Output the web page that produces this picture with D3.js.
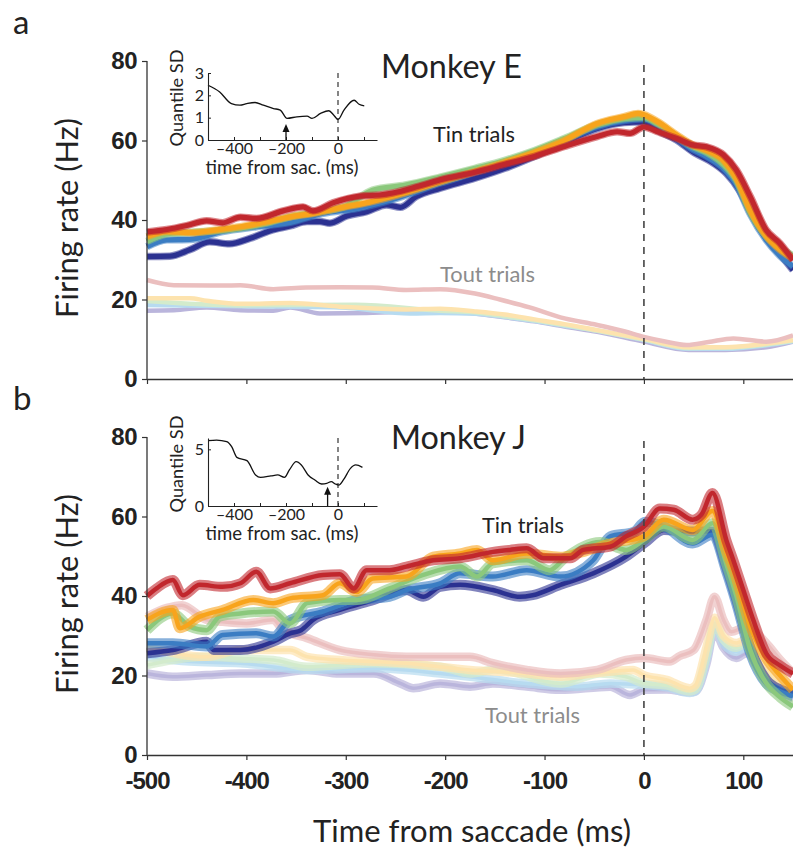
<!DOCTYPE html>
<html><head><meta charset="utf-8">
<script src="https://cdn.jsdelivr.net/npm/d3@7"></script>
<style>
body{margin:0;background:#fff;}
svg{display:block;}
.tick-bold{font-family:"Liberation Sans",Arial,Helvetica,sans-serif;font-weight:bold;}
.lbl{font-family:Lato,"Open Sans","Noto Sans",sans-serif;}
</style></head>
<body>
<script>
// ---------------- DATA ----------------
const xTicks = [-500,-400,-300,-200,-100,0,100];
const yTicks = [0,20,40,60,80];
const tinColors  = ["#2b3191","#3b7dc3","#8bc87c","#f8a41c","#c1272d"];
const toutColors = ["#bab5dc","#b7dbf0","#d3ebcc","#fde3ae","#ebbfbf"];

// Monkey E, Tin trials (time ms, rate Hz)
const aTinQ1 = [[-500,30.8],[-477,30.9],[-457,32.5],[-437,34.5],[-417,34.0],[-396,35.4],[-376,37.3],[-356,38.5],[-339,39.6],[-326,39.6],[-316,39.2],[-299,41.0],[-279,42.1],[-259,43.8],[-245,43.2],[-229,45.9],[-205,48.0],[-170,50.5],[-140,53],[-110,56],[-80,59.5],[-47,63],[-20,64.5],[0,64.7],[14,62.5],[33,60.1],[49,57.2],[70,54.3],[83,51.7],[96,47.5],[110,40.8],[123,35.8],[137,31.5],[150,27.4]];
const aTinQ2 = [[-500,33.3],[-480,35],[-457,35.1],[-424,37.1],[-390,38.3],[-356,39.4],[-323,41.7],[-289,42.9],[-255,45],[-205,49.3],[-170,52],[-140,54.5],[-110,57],[-80,60],[-47,63.5],[-20,65],[0,65.5],[14,64],[33,60.5],[49,57.8],[63,56],[80,53],[93,49],[107,41.5],[123,35],[137,31],[150,28.3]];
const aTinQ3 = [[-500,34.6],[-480,36.5],[-455,36.9],[-430,37.3],[-406,38],[-380,39.2],[-356,40.8],[-330,42],[-300,43.5],[-273,47.5],[-240,48.8],[-205,50.8],[-170,53],[-140,55],[-110,57.5],[-80,60.5],[-47,64],[-20,65.5],[0,65.8],[14,64.2],[33,61],[49,58.5],[63,57],[80,54],[93,50],[107,42],[123,36],[137,33],[150,31]];
const aTinQ4 = [[-500,35.8],[-480,37.1],[-455,36.8],[-430,37.5],[-406,38.3],[-380,39.5],[-356,40.8],[-330,41.8],[-309,42.9],[-276,44.5],[-242,46.7],[-205,49.6],[-170,52.2],[-140,54.5],[-110,57],[-80,60],[-47,64.3],[-20,66],[-6,66.8],[0,66.5],[14,64.7],[33,61.4],[49,58.9],[63,57.5],[80,55],[93,50.5],[107,42.5],[123,36],[137,32.5],[150,30.3]];
const aTinQ5 = [[-500,37.0],[-480,37.6],[-460,38.6],[-440,39.8],[-424,39.3],[-406,40.7],[-390,40.4],[-363,42.3],[-343,43.3],[-333,42.3],[-313,44.3],[-286,46.0],[-266,46.3],[-253,46.8],[-228,48.4],[-205,50.1],[-170,52],[-140,54],[-110,56],[-80,58.5],[-47,61],[-27,62.2],[-14,61.8],[0,63.4],[14,62.2],[33,60.5],[49,58.9],[63,58.4],[80,56.4],[93,52.6],[107,45.9],[123,37.5],[137,34.1],[150,29.9]];
// Monkey E, Tout trials
const aToutQ1 = [[-500,17.2],[-473,17.3],[-440,18],[-406,17.3],[-373,17.2],[-356,18],[-326,16.5],[-279,16.6],[-205,17.2],[-170,16.5],[-140,15.5],[-110,14.5],[-80,13.2],[-47,11.9],[0,9.4],[45,7.3],[82,7.3],[123,8],[150,9.4]];
const aToutQ2 = [[-500,18.6],[-406,18.3],[-306,18],[-235,16.5],[-205,16.6],[-170,16.4],[-140,15.6],[-110,14.6],[-80,13.4],[-47,12.2],[0,9.8],[45,7.6],[82,7.6],[123,8.5],[150,9.5]];
const aToutQ3 = [[-500,19.6],[-406,18.5],[-290,18.7],[-205,17.2],[-170,16.8],[-140,15.8],[-110,14.8],[-80,13.6],[-47,12.1],[0,9.9],[45,7.8],[82,7.9],[123,8.7],[150,9.6]];
const aToutQ4 = [[-500,20.3],[-457,20.3],[-440,19.7],[-406,18.9],[-356,19.1],[-306,18.2],[-239,17.5],[-205,17.7],[-170,17],[-140,16.2],[-110,15],[-80,13.8],[-47,12.3],[0,10.1],[45,8],[82,8],[123,8.9],[150,9.8]];
const aToutQ5 = [[-500,24.9],[-473,23.6],[-424,23.5],[-406,23.6],[-373,22.6],[-340,23],[-306,23.1],[-273,23],[-239,22.4],[-205,22.6],[-170,21.5],[-145,20],[-115,18],[-84,15.5],[-47,13.6],[-20,12],[0,10.6],[20,9.5],[43,8.55],[65,9.3],[90,10.2],[123,9.4],[150,11]];

// Monkey J, Tin trials
const bTinQ1 = [[-500,25.6],[-474,26.4],[-440,28.5],[-433,26.4],[-406,26.4],[-373,28.5],[-356,30.6],[-345,31.4],[-333,34],[-306,36.5],[-272,39],[-239,41.5],[-222,39.8],[-205,42.3],[-185,42.8],[-152,41.5],[-125,39.8],[-112,40.2],[-84,42.8],[-51,45.7],[-18,49.9],[0,53.2],[20,56.6],[49,56.2],[69,56.2],[83,47],[93,39],[107,27],[123,19],[137,16.5],[150,15.6]];
const bTinQ2 = [[-500,28.1],[-474,28.1],[-440,27.3],[-424,30.2],[-390,30.6],[-373,29.8],[-356,34],[-323,36.1],[-289,39],[-256,39.8],[-239,41.5],[-205,43.2],[-185,45.7],[-152,44.9],[-118,46.5],[-84,44.9],[-51,49],[-34,55],[-10,56.2],[1,58.7],[20,57.5],[49,53.2],[69,55.4],[83,46],[93,38],[107,25.5],[123,18],[137,16],[150,14.8]];
const bTinQ3 = [[-500,31.4],[-474,35.6],[-457,32.3],[-440,31.4],[-427,34.8],[-406,35.6],[-373,36.1],[-356,33.1],[-339,38.2],[-306,39],[-289,39],[-256,41.9],[-222,45.3],[-185,47.4],[-168,44.9],[-152,48.2],[-118,49],[-95,46.5],[-78,49.9],[-44,53.6],[-18,51.6],[0,54.1],[20,57.5],[49,54.1],[69,58.3],[83,48],[93,40],[107,26.4],[123,18.1],[137,14.5],[150,12.2]];
const bTinQ4 = [[-500,34],[-474,36.5],[-467,31.9],[-447,34.8],[-424,36.5],[-393,39],[-373,38.2],[-356,39.4],[-323,40.2],[-306,43.2],[-289,41],[-273,44.4],[-239,44.9],[-212,49.9],[-185,50.7],[-168,51.6],[-152,49],[-118,50.7],[-84,49.9],[-67,50.7],[-34,53.2],[0,55],[20,59.2],[49,56.6],[69,61.4],[83,51],[90,46.5],[107,32.3],[123,24.3],[137,20],[150,16.4]];
const bTinQ5 = [[-500,40],[-490,42],[-474,44],[-464,40.2],[-447,42.8],[-424,42.3],[-406,43.2],[-390,46.1],[-376,41.9],[-356,43.2],[-323,45.3],[-306,45.5],[-292,41.9],[-279,46.5],[-256,46.5],[-239,47.4],[-212,49],[-185,49.5],[-152,51.1],[-135,51.6],[-118,52],[-101,49.5],[-74,49.5],[-61,51.6],[-34,52.4],[-18,55],[0,57.4],[16,62],[30,61.7],[49,59.2],[58,60.5],[69,65.9],[83,54],[90,49],[100,41.5],[110,34],[123,25.6],[137,22.5],[150,20.5]];
// Monkey J, Tout trials
const bToutQ1 = [[-500,20.5],[-474,19.7],[-440,20.1],[-406,20.5],[-373,20.5],[-339,21.4],[-306,20.5],[-272,20.5],[-245,18],[-232,16.8],[-205,18],[-175,17.2],[-152,18],[-118,17.2],[-84,16.4],[-34,17.2],[-14,15.1],[0,16.4],[23,16.5],[46,15.8],[52,16],[63,23],[71,31.4],[80,27],[93,24.4],[103,25.6],[123,19],[150,14]];
const bToutQ2 = [[-500,24.7],[-457,23.5],[-406,23.1],[-339,21.4],[-272,21.8],[-205,20.5],[-175,19.7],[-118,18],[-67,17.2],[-34,18],[0,17.6],[23,17],[46,15.6],[52,16],[63,24],[71,32.5],[80,28],[93,26],[103,27],[123,20],[150,14.5]];
const bToutQ3 = [[-500,22.6],[-474,23.9],[-440,24.7],[-406,24.3],[-373,23.9],[-339,22.2],[-272,23.1],[-205,22.2],[-175,20.5],[-150,21.5],[-84,18],[-44,20.5],[-18,19.7],[0,18],[23,17.5],[46,16],[52,16.5],[63,25],[71,33],[80,29],[93,27],[103,28],[123,21],[150,14.5]];
const bToutQ4 = [[-500,27.2],[-440,24.7],[-406,26.4],[-356,26.4],[-339,24.7],[-306,23.9],[-239,23.1],[-175,21.4],[-118,20.5],[-84,19.7],[-51,20.5],[-11,21.4],[0,20.1],[23,18.9],[46,16.8],[52,17.6],[63,27.2],[71,34.5],[80,30],[93,28.2],[103,29],[123,22],[137,18],[150,16]];
const bToutQ5 = [[-500,34.8],[-480,37],[-465,37.7],[-440,34],[-424,33.5],[-400,33.1],[-373,34],[-363,31.4],[-339,29.4],[-306,26.4],[-272,25.2],[-239,24.7],[-175,24.7],[-152,23.1],[-118,21.4],[-84,20.5],[-47,21.4],[-18,23.9],[0,24.4],[26,23.5],[36,24.9],[50,26.4],[63,34],[71,39.8],[80,34],[88,31],[103,32.3],[123,28.2],[137,24],[150,20.6]];

// Insets: quantile SD
const insetLabelTicks = [-400,-200,0];
const insetYTicksA = [0,1,2,3];
const insetYTicksB = [0,5];
const insetA = [[-500,2.45],[-455,2.15],[-410,1.63],[-377,1.56],[-351,1.63],[-319,1.68],[-287,1.56],[-248,1.41],[-222,1.34],[-196,0.97],[-158,1.04],[-119,1.07],[-100,0.97],[-67,1.19],[-35,1.31],[-16,1.11],[0,0.92],[23,1.34],[62,1.78],[81,1.6],[101,1.53]];
const insetB = [[-500,5.76],[-467,5.82],[-428,5.68],[-409,5.24],[-389,4.29],[-350,4.0],[-317,2.74],[-298,2.53],[-258,2.65],[-232,2.74],[-206,2.53],[-187,3.18],[-161,3.91],[-141,3.62],[-115,2.74],[-89,2.29],[-63,1.94],[-43,2.0],[-26,2.15],[-10,1.94],[3,1.85],[22,2.35],[48,3.32],[68,3.62],[94,3.41]];
const arrowA = {t:-200, v:0.72};
const arrowB = {t:-40, v:1.7};

// ---------------- DRAW ----------------
const W = 793, H = 860;
const svg = d3.select("body").append("svg").attr("width", W).attr("height", H);

function fit(sel, target){
  const base = parseFloat(sel.style("font-size"));
  const w = sel.node().getComputedTextLength();
  const fs = base*target/w;
  sel.style("font-size", fs+"px");
  return fs;
}
const dashFmt = d => d<0 ? "-"+Math.abs(d) : String(d);

const x = d3.scaleLinear().domain([-500,150]).range([147,793]);
const ix = d3.scaleLinear().domain([-500,150]).range([208,377]);
const panels = [
  {y: d3.scaleLinear().domain([0,80]).range([379,61]), tin:[aTinQ1,aTinQ2,aTinQ3,aTinQ4,aTinQ5], tout:[aToutQ1,aToutQ2,aToutQ3,aToutQ4,aToutQ5],
   band:false, letter:"a", letterY:34, title:"Monkey E", titleX:381, titleY:78,
   tinX:433, tinY:142, toutX:440, toutY:282, xLabels:false,
   inset:{data:insetA, y:d3.scaleLinear().domain([0,3]).range([140,73]), yt:insetYTicksA, arrow:arrowA}},
  {y: d3.scaleLinear().domain([0,80]).range([755,437]), tin:[bTinQ1,bTinQ2,bTinQ3,bTinQ4,bTinQ5], tout:[bToutQ1,bToutQ2,bToutQ3,bToutQ4,bToutQ5],
   band:true, letter:"b", letterY:410, title:"Monkey J", titleX:391, titleY:449,
   tinX:482, tinY:533, toutX:485, toutY:723, xLabels:true,
   inset:{data:insetB, y:d3.scaleLinear().domain([0,6]).range([506,438]), yt:insetYTicksB, arrow:arrowB}}
];

let fsTitle=null, fsTin=null, fsTout=null, fsY=null, fsInsetX=null, fsInsetY=null;

panels.forEach((p,pi) => {
  const y = p.y;
  const g = svg.append("g");
  const line = d3.line().x(d=>x(d[0])).y(d=>y(d[1])).curve(d3.curveMonotoneX);

  p.tout.forEach((s,i)=>{
    if (p.band){
      g.append("path").attr("d", line(s)).attr("fill","none").attr("stroke",toutColors[i])
        .attr("stroke-width",8.5).attr("stroke-opacity",0.7).attr("stroke-linejoin","round");
      g.append("path").attr("d", line(s)).attr("fill","none").attr("stroke",toutColors[i])
        .attr("stroke-width",3.5).attr("stroke-linejoin","round");
    } else {
      g.append("path").attr("d", line(s)).attr("fill","none").attr("stroke",toutColors[i])
        .attr("stroke-width",4.5).attr("stroke-linejoin","round");
    }
  });
  p.tin.forEach((s,i)=>{
    if (p.band){
      g.append("path").attr("d", line(s)).attr("fill","none").attr("stroke",tinColors[i])
        .attr("stroke-width",10).attr("stroke-opacity",0.6).attr("stroke-linejoin","round");
      g.append("path").attr("d", line(s)).attr("fill","none").attr("stroke",tinColors[i])
        .attr("stroke-width",4.5).attr("stroke-linejoin","round");
    } else {
      g.append("path").attr("d", line(s)).attr("fill","none").attr("stroke",tinColors[i])
        .attr("stroke-width",7.5).attr("stroke-opacity",0.55).attr("stroke-linejoin","round");
      g.append("path").attr("d", line(s)).attr("fill","none").attr("stroke",tinColors[i])
        .attr("stroke-width",5.2).attr("stroke-linejoin","round");
    }
  });

  g.append("line").attr("x1",x(0)).attr("x2",x(0)).attr("y1",y(80)+4).attr("y2",y(0))
    .attr("stroke","#444").attr("stroke-width",1.6).attr("stroke-dasharray","7,6");

  const ya = g.append("g").attr("transform",`translate(${x(-500)},0)`)
    .call(d3.axisLeft(y).tickValues(yTicks).tickSize(5).tickSizeOuter(0).tickPadding(5));
  ya.selectAll("text").attr("class","tick-bold").style("font-size","24px").attr("fill","#222").attr("letter-spacing","-0.5");
  const xa = g.append("g").attr("transform",`translate(0,${y(0)})`)
    .call(d3.axisBottom(x).tickValues(xTicks).tickSize(5).tickSizeOuter(0).tickPadding(12)
      .tickFormat(p.xLabels ? dashFmt : ""));
  xa.selectAll("text").attr("class","tick-bold").style("font-size","24px").attr("fill","#222").attr("letter-spacing","-1");
  [ya,xa].forEach(a=>{ a.select(".domain").attr("stroke","#333").attr("stroke-width",1.3);
    a.selectAll(".tick line").attr("stroke","#333").attr("stroke-width",1.2); });
  ya.select(".domain").attr("d",`M0,${y(80)}V${y(0)}`);

  // texts
  svg.append("text").attr("class","lbl").attr("x",13).attr("y",p.letterY).text(p.letter)
    .style("font-size","33px").attr("fill","#222");
  const tt = svg.append("text").attr("class","lbl").attr("x",p.titleX).attr("y",p.titleY).text(p.title)
    .style("font-size","30px").attr("fill","#222");
  if (pi===0) fsTitle = fit(tt,141); else tt.style("font-size",fsTitle+"px");
  const ti = svg.append("text").attr("class","lbl").attr("x",p.tinX).attr("y",p.tinY).text("Tin trials")
    .style("font-size","20px").attr("fill","#222");
  if (pi===0) fsTin = fit(ti,82); else ti.style("font-size",fsTin+"px");
  const to = svg.append("text").attr("class","lbl").attr("x",p.toutX).attr("y",p.toutY).text("Tout trials")
    .style("font-size","20px").attr("fill","#8c8c8c");
  if (pi===0) fsTout = fit(to,95); else to.style("font-size",fsTout+"px");
  const yt = svg.append("text").attr("class","lbl")
    .attr("transform",`translate(78,${(y(0)+y(80))/2 - 2}) rotate(-90)`).attr("text-anchor","middle")
    .text("Firing rate (Hz)").style("font-size","29px").attr("fill","#222");
  if (pi===0) fsY = fit(yt,200); else yt.style("font-size",fsY+"px");

  // inset
  const iy = p.inset.y;
  const ig = svg.append("g");
  const iline = d3.line().x(d=>ix(d[0])).y(d=>iy(d[1])).curve(d3.curveMonotoneX);
  ig.append("path").attr("d", iline(p.inset.data)).attr("fill","none").attr("stroke","#111").attr("stroke-width",1.3);
  ig.append("line").attr("x1",ix(0)).attr("x2",ix(0)).attr("y1",iy.range()[1]).attr("y2",iy(0))
    .attr("stroke","#222").attr("stroke-width",1.1).attr("stroke-dasharray","5,4");
  const iya = ig.append("g").attr("transform",`translate(${ix(-500)},0)`)
    .call(d3.axisLeft(iy).tickValues(p.inset.yt).tickSize(-3).tickSizeOuter(0).tickPadding(4).tickFormat(d3.format("d")));
  const ixa = ig.append("g").attr("transform",`translate(0,${iy(0)})`)
    .call(d3.axisBottom(ix).tickValues([-400,-300,-200,-100,0,100]).tickSize(-3).tickSizeOuter(0).tickPadding(2)
      .tickFormat(d => insetLabelTicks.includes(d) ? (d<0 ? "–"+Math.abs(d) : String(d)) : ""));
  [iya,ixa].forEach(a=>{ a.select(".domain").attr("stroke","#222").attr("stroke-width",1.1);
    a.selectAll(".tick line").attr("stroke","#222");
    a.selectAll("text").attr("class","lbl").style("font-size","16px").attr("fill","#222"); });
  ixa.selectAll("text").attr("dy","0.72em");
  const itx = ig.append("text").attr("class","lbl").attr("x",282).attr("y",iy(0)+34).attr("text-anchor","middle")
    .text("time from sac. (ms)").style("font-size","16px").attr("fill","#222");
  if (pi===0) fsInsetX = fit(itx,153); else itx.style("font-size",fsInsetX+"px");
  const ity = ig.append("text").attr("class","lbl")
    .attr("transform",`translate(183,${iy(0)-42}) rotate(-90)`).attr("text-anchor","middle")
    .text("Quantile SD").style("font-size","16px").attr("fill","#222");
  if (pi===0) fsInsetY = fit(ity,97); else ity.style("font-size",fsInsetY+"px");
  const ar = p.inset.arrow;
  const ax0 = ix(ar.t), ayTip = iy(ar.v);
  ig.append("line").attr("x1",ax0).attr("x2",ax0).attr("y1",iy(0)).attr("y2",ayTip+5)
    .attr("stroke","#111").attr("stroke-width",1.3);
  ig.append("path").attr("d",`M${ax0},${ayTip} L${ax0-3.5},${ayTip+8} L${ax0+3.5},${ayTip+8} Z`).attr("fill","#111");
});

const xt = svg.append("text").attr("class","lbl").attr("x",472).attr("y",842).attr("text-anchor","middle")
  .text("Time from saccade (ms)").style("font-size","28px").attr("fill","#222");
fit(xt,318);
</script>
</body></html>
